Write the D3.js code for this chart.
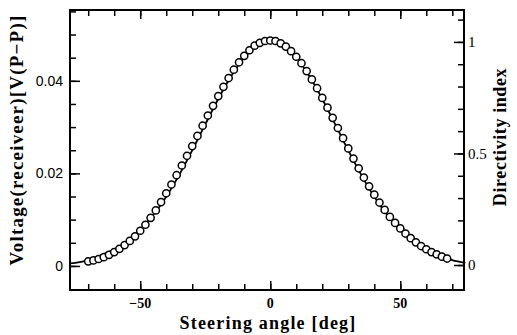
<!DOCTYPE html>
<html lang="en"><head><meta charset="utf-8">
<title>Steering angle</title>
<script type="text/javascript" src="https://cdn.jsdelivr.net/npm/d3@7"></script>
<style>
  body { margin: 0; background: #fff; }
</style>
</head>
<body>
<script type="text/javascript">
    // measured receiver voltage (open circles, left axis)
    var measAngle = [-70, -68, -66, -64, -62, -60, -58, -56, -54, -52, -50, -48, -46, -44, -42, -40,
        -38, -36, -34, -32, -30, -28, -26, -24, -22, -20, -18, -16, -14, -12, -10, -8, -6, -4, -2,
        0, 2, 4, 6, 8, 10, 12, 14, 16, 18, 20, 22, 24, 26, 28, 30, 32, 34, 36, 38, 40, 42, 44, 46,
        48, 50, 52, 54, 56, 58, 60, 62, 64, 66, 68];
    var measVoltage = [0.0010, 0.0012, 0.0015, 0.0019, 0.0024, 0.0030, 0.0037, 0.0045, 0.0054, 0.0064,
        0.0076, 0.0089, 0.0104, 0.0120, 0.0138, 0.0157, 0.0176, 0.0196, 0.0217, 0.0238, 0.0259,
        0.0281, 0.0303, 0.0325, 0.0346, 0.0367, 0.0387, 0.0406, 0.0424, 0.0440, 0.0454, 0.0466,
        0.0476, 0.0482, 0.0486, 0.0487, 0.0486, 0.0481, 0.0474, 0.0464, 0.0452, 0.0438, 0.0421,
        0.0403, 0.0384, 0.0363, 0.0342, 0.0320, 0.0298, 0.0276, 0.0254, 0.0232, 0.0211, 0.0191,
        0.0172, 0.0154, 0.0137, 0.0121, 0.0106, 0.0093, 0.0081, 0.0070, 0.0060, 0.0051, 0.0043,
        0.0036, 0.0030, 0.0025, 0.0020, 0.0016];

    // calculated directivity (solid line, right axis)
    var calcAngle = [-77, -75, -70, -65, -60, -55, -50, -45, -40, -35, -30, -25, -20, -15, -10, -5,
        0, 5, 10, 15, 20, 25, 30, 35, 40, 45, 50, 55, 60, 65, 70, 75];
    var calcDirectivity = [0.007, 0.010, 0.022, 0.044, 0.070, 0.107, 0.157, 0.224, 0.306, 0.404,
        0.514, 0.630, 0.744, 0.847, 0.929, 0.982, 1.000, 0.982, 0.929, 0.847, 0.744, 0.630, 0.514,
        0.404, 0.306, 0.224, 0.157, 0.107, 0.070, 0.044, 0.022, 0.010];

    var xTicks = [-50, 0, 50];
    var yLeftTicks = [0, 0.02, 0.04];
    var yRightTicks = [0, 0.5, 1];

    var width = 517, height = 335;
    var plotL = 70, plotR = 464, plotT = 10, plotB = 290;

    var x = d3.scaleLinear().domain([-77, 74.5]).range([plotL, plotR]);
    var yL = d3.scaleLinear().domain([-0.0052, 0.0553]).range([plotB, plotT]);
    var yR = d3.scaleLinear().domain([-0.112, 1.143]).range([plotB, plotT]);

    var svg = d3.select("body").append("svg")
        .attr("width", width)
        .attr("height", height);

    // ticks, all pointing inward
    function tickAxis(axis, pos) {
        var g = svg.append("g")
            .attr("transform", pos)
            .call(axis);
        g.select(".domain").remove();
        g.selectAll("line").attr("stroke", "#000").attr("stroke-width", 1.5);
        return g;
    }

    var minorX = d3.range(-70, 71, 10);
    tickAxis(d3.axisBottom(x).tickValues(minorX).tickSize(-6).tickFormat(""), "translate(0," + plotB + ")");
    tickAxis(d3.axisBottom(x).tickValues(xTicks).tickSize(-9).tickFormat(""), "translate(0," + plotB + ")");
    tickAxis(d3.axisTop(x).tickValues(minorX).tickSize(-6).tickFormat(""), "translate(0," + plotT + ")");
    tickAxis(d3.axisTop(x).tickValues(xTicks).tickSize(-9).tickFormat(""), "translate(0," + plotT + ")");

    var minorL = d3.range(0, 0.0551, 0.005);
    tickAxis(d3.axisLeft(yL).tickValues(minorL).tickSize(-6).tickFormat(""), "translate(" + plotL + ",0)");
    tickAxis(d3.axisLeft(yL).tickValues(yLeftTicks).tickSize(-10).tickFormat(""), "translate(" + plotL + ",0)");

    var minorR = d3.range(0, 1.11, 0.1);
    tickAxis(d3.axisRight(yR).tickValues(minorR).tickSize(-6).tickFormat(""), "translate(" + plotR + ",0)");
    tickAxis(d3.axisRight(yR).tickValues(yRightTicks).tickSize(-10).tickFormat(""), "translate(" + plotR + ",0)");

    // tick labels
    svg.append("g").selectAll("text")
        .data(xTicks).enter().append("text")
        .attr("x", function (d) { return x(d); })
        .attr("y", 308)
        .attr("text-anchor", "middle")
        .attr("font-family", "Liberation Serif")
        .attr("font-weight", "bold")
        .attr("font-size", 14)
        .text(function (d) { return d < 0 ? "\u2212" + Math.abs(d) : d; });

    svg.append("g").selectAll("text")
        .data(yLeftTicks).enter().append("text")
        .attr("x", 63)
        .attr("y", function (d) { return yL(d); })
        .attr("dy", "0.35em")
        .attr("text-anchor", "end")
        .attr("font-family", "Liberation Sans")
        .attr("font-size", 14)
        .text(function (d) { return d === 0 ? "0" : d3.format(".2f")(d); });

    svg.append("g").selectAll("text")
        .data(yRightTicks).enter().append("text")
        .attr("x", 468)
        .attr("y", function (d) { return yR(d); })
        .attr("dy", "0.35em")
        .attr("text-anchor", "start")
        .attr("font-family", "Liberation Serif")
        .attr("font-size", 15)
        .text(function (d) { return d; });

    // axis titles
    svg.append("text")
        .attr("x", 268)
        .attr("y", 329)
        .attr("text-anchor", "middle")
        .attr("font-family", "Liberation Serif")
        .attr("font-weight", "bold")
        .attr("font-size", 18)
        .attr("letter-spacing", 1.2)
        .text("Steering angle  [deg]");

    svg.append("text")
        .attr("transform", "translate(23,140) rotate(-90)")
        .attr("text-anchor", "middle")
        .attr("font-family", "Liberation Serif")
        .attr("font-weight", "bold")
        .attr("font-size", 19)
        .attr("letter-spacing", 1.2)
        .text("Voltage(receiveer)[V(P\u2212P)]");

    svg.append("text")
        .attr("transform", "translate(506,137) rotate(-90)")
        .attr("text-anchor", "middle")
        .attr("font-family", "Liberation Serif")
        .attr("font-weight", "bold")
        .attr("font-size", 18)
        .attr("letter-spacing", 0.6)
        .text("Directivity  index");

    // calculated curve
    var line = d3.line()
        .x(function (d, i) { return x(calcAngle[i]); })
        .y(function (d) { return yR(d); })
        .curve(d3.curveMonotoneX);

    svg.append("path")
        .datum(calcDirectivity)
        .attr("fill", "none")
        .attr("stroke", "#000")
        .attr("stroke-width", 1.8)
        .attr("d", line);

    // measured points
    svg.append("g").selectAll("circle")
        .data(measVoltage).enter().append("circle")
        .attr("cx", function (d, i) { return x(measAngle[i]); })
        .attr("cy", function (d) { return yL(d); })
        .attr("r", 3.6)
        .attr("fill", "#fff")
        .attr("stroke", "#000")
        .attr("stroke-width", 1.5);

    // frame
    svg.append("rect")
        .attr("x", plotL)
        .attr("y", plotT)
        .attr("width", plotR - plotL)
        .attr("height", plotB - plotT)
        .attr("fill", "none")
        .attr("stroke", "#000")
        .attr("stroke-width", 2);
</script>
</body></html>
